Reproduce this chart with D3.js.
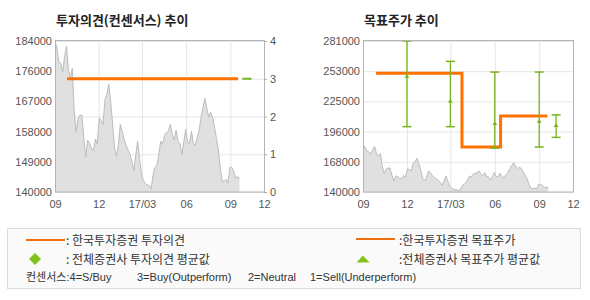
<!DOCTYPE html>
<html>
<head>
<meta charset="utf-8">
<script src="https://cdn.jsdelivr.net/npm/d3@7"></script>
<style>
body { margin: 0; background: #fff; }
svg { font-family: "Noto Sans CJK KR", "Liberation Sans", sans-serif; }
.grid line { stroke: #e6e6e6; }
.grid path { display: none; }
.lbl text { fill: #555; font-size: 11px; font-family: "Liberation Sans", Arial, sans-serif; }
.lbl path { display: none; }
.lbl line { stroke: #aaa; }
.cs { font-family: "Liberation Sans", "Noto Sans CJK KR", sans-serif; }
</style>
</head>
<body>
<div id="chart"></div>
<script>
// stock price, sampled every 4 days from 2016-09-01
const priceStart = "2016-09-01";
const priceStepDays = 4;
const priceValues = [
  183700, 182200, 177800, 177500, 175000, 179500, 182500, 175500, 173400, 176000,
  163800, 157400, 161400, 162400, 162400, 155600, 150100, 155100, 154200, 152600,
  152200, 155400, 153900, 161500, 160900, 159700, 167000, 168500, 171400, 166100,
  159700, 152700, 150400, 153900, 159700, 157700, 155100, 153600, 152200, 151000,
  148900, 146300, 150700, 154800, 149800, 145200, 143400, 142500, 142000, 142000,
  140800, 144900, 147200, 147800, 150700, 154800, 153900, 156500, 157400, 157700,
  159700, 156800, 155100, 158000, 154800, 154200, 151000, 154500, 158300, 154500,
  154200, 157700, 154200, 153600, 155900, 158000, 161800, 164700, 167300, 164400,
  161800, 163200, 161800, 158900, 155600, 152200, 146900, 143100, 143100, 143700,
  142500, 147200, 147200, 146000, 144000, 144600, 143900
];

// x axis
const xStart = "2016-09-01";
const xEnd = "2017-11-10";
const xTickDates = ["2016-09-01", "2016-12-01", "2017-03-01", "2017-06-01", "2017-09-01", "2017-11-10"];
const xTickLabels = ["09", "12", "17/03", "06", "09", "12"];

// left chart
const leftPriceDomain = [140000, 184000];
const leftPriceLabels = ["140000", "149000", "158000", "167000", "176000", "184000"];
const opinionTicks = [0, 1, 2, 3, 4];
const opinionDates = ["2016-09-26", "2017-09-17"];
const opinionValues = [3, 3];
const avgOpinionDates = ["2017-09-26", "2017-10-15"];
const avgOpinionValues = [3, 3];

// right chart
const rightPriceDomain = [140000, 281000];
const rightPriceLabels = ["140000", "168000", "196000", "225000", "253000", "281000"];
const targetDates = ["2016-09-28", "2017-03-25", "2017-06-13", "2017-09-18"];
const targetValues = [251000, 182000, 211000, 211000];
const bandDates = ["2016-12-01", "2017-03-01", "2017-06-01", "2017-09-01", "2017-10-06"];
const bandLow = [201000, 201000, 181000, 182000, 191000];
const bandAvg = [248000, 225000, 204000, 206000, 202000];
const bandHigh = [281000, 262000, 252000, 252000, 212000];

const parse = d3.timeParse("%Y-%m-%d");
const orange = "#ff7200";
const green = "#77b41c";

const start = parse(priceStart);
const prices = priceValues.map((v, i) => ({ date: d3.timeDay.offset(start, i * priceStepDays), value: v }));

const svg = d3.select("#chart").append("svg")
  .attr("width", 590)
  .attr("height", 300);

const plotTop = 41, plotBottom = 192;

function drawFrame(x0, x1, priceDomain, priceLabels, title, id) {
  const x = d3.scaleTime().domain([parse(xStart), parse(xEnd)]).range([x0, x1]);
  const y = d3.scaleLinear().domain(priceDomain).range([plotBottom, plotTop]);
  const priceTicks = d3.range(priceLabels.length).map(i =>
    priceDomain[0] + i * (priceDomain[1] - priceDomain[0]) / (priceLabels.length - 1));

  svg.append("text")
    .attr("x", x0 + 1)
    .attr("y", 25)
    .attr("font-size", "13px")
    .attr("font-weight", "bold")
    .attr("fill", "#222")
    .text(title);

  // vertical grid
  svg.append("g").attr("class", "grid")
    .attr("transform", `translate(0,${plotBottom})`)
    .call(d3.axisBottom(x).tickValues(xTickDates.map(parse)).tickSize(-(plotBottom - plotTop)).tickFormat(""));

  // x labels
  svg.append("g").attr("class", "lbl")
    .attr("transform", `translate(0,${plotBottom})`)
    .call(d3.axisBottom(x).tickValues(xTickDates.map(parse)).tickSize(0).tickPadding(8)
      .tickFormat((d, i) => xTickLabels[i]));

  // left price labels
  svg.append("g").attr("class", "lbl")
    .attr("transform", `translate(${x0},0)`)
    .call(d3.axisLeft(y).tickValues(priceTicks).tickSize(0).tickPadding(3)
      .tickFormat((d, i) => priceLabels[i]));

  svg.append("clipPath").attr("id", id)
    .append("rect").attr("x", x0).attr("y", plotTop).attr("width", x1 - x0).attr("height", plotBottom - plotTop);

  return { x, y, priceTicks };
}

function drawPrice(s, id) {
  const area = d3.area()
    .x(d => s.x(d.date))
    .y0(plotBottom)
    .y1(d => s.y(d.value));
  const line = d3.line()
    .x(d => s.x(d.date))
    .y(d => s.y(d.value));
  const g = svg.append("g").attr("clip-path", `url(#${id})`);
  g.append("path").attr("d", area(prices)).attr("fill", "#e0e0e0");
  g.append("path").attr("d", line(prices)).attr("fill", "none").attr("stroke", "#bcbcbc").attr("stroke-width", 1);
}

function drawBorder(x0, x1) {
  svg.append("rect")
    .attr("x", x0 + 0.5).attr("y", plotTop - 0.5)
    .attr("width", x1 - x0).attr("height", plotBottom - plotTop + 0.5)
    .attr("fill", "none").attr("stroke", "#b4b4b4");
}

// ---------- left chart: consensus ----------
const L = drawFrame(55, 264, leftPriceDomain, leftPriceLabels, "투자의견(컨센서스) 추이", "clipL");
const yOp = d3.scaleLinear().domain([0, 4]).range([plotBottom, plotTop]);

svg.append("g").attr("class", "grid")
  .attr("transform", "translate(55,0)")
  .call(d3.axisRight(yOp).tickValues(opinionTicks).tickSize(209).tickFormat(""));

svg.append("g").attr("class", "lbl")
  .attr("transform", "translate(264,0)")
  .call(d3.axisRight(yOp).tickValues(opinionTicks).tickSize(3).tickPadding(3).tickFormat(d3.format("d")));

drawPrice(L, "clipL");

const opLine = d3.line().x(d => L.x(d.date)).y(d => yOp(d.value)).curve(d3.curveStepAfter);
svg.append("path")
  .attr("d", opLine(opinionDates.map((d, i) => ({ date: parse(d), value: opinionValues[i] }))))
  .attr("fill", "none").attr("stroke", orange).attr("stroke-width", 3);
svg.append("path")
  .attr("d", opLine(avgOpinionDates.map((d, i) => ({ date: parse(d), value: avgOpinionValues[i] }))))
  .attr("fill", "none").attr("stroke", green).attr("stroke-width", 2);

drawBorder(55, 264);

// ---------- right chart: target price ----------
const R = drawFrame(363, 573, rightPriceDomain, rightPriceLabels, "목표주가 추이", "clipR");

svg.append("g").attr("class", "grid")
  .attr("transform", "translate(363,0)")
  .call(d3.axisRight(R.y).tickValues(R.priceTicks).tickSize(210).tickFormat(""));

drawPrice(R, "clipR");

const tgLine = d3.line().x(d => R.x(d.date)).y(d => R.y(d.value)).curve(d3.curveStepAfter);
svg.append("path")
  .attr("d", tgLine(targetDates.map((d, i) => ({ date: parse(d), value: targetValues[i] }))))
  .attr("fill", "none").attr("stroke", orange).attr("stroke-width", 3);

const bands = bandDates.map((d, i) => ({ date: parse(d), low: bandLow[i], avg: bandAvg[i], high: bandHigh[i] }));
const bg = svg.append("g").selectAll("g").data(bands).join("g");
bg.append("line")
  .attr("x1", d => R.x(d.date)).attr("x2", d => R.x(d.date))
  .attr("y1", d => R.y(d.high)).attr("y2", d => R.y(d.low))
  .attr("stroke", green).attr("stroke-width", 1.3);
bg.append("line")
  .attr("x1", d => R.x(d.date) - 4.5).attr("x2", d => R.x(d.date) + 4.5)
  .attr("y1", d => R.y(d.high)).attr("y2", d => R.y(d.high))
  .attr("stroke", green).attr("stroke-width", 1.5);
bg.append("line")
  .attr("x1", d => R.x(d.date) - 4.5).attr("x2", d => R.x(d.date) + 4.5)
  .attr("y1", d => R.y(d.low)).attr("y2", d => R.y(d.low))
  .attr("stroke", green).attr("stroke-width", 1.5);
bg.append("path")
  .attr("transform", d => `translate(${R.x(d.date)},${R.y(d.avg)})`)
  .attr("d", "M-2.5,1.5L0,-2L2.5,1.5Z")
  .attr("fill", green);

drawBorder(363, 573);

// ---------- legend ----------
const lg = svg.append("g");
lg.append("rect")
  .attr("x", 7.5).attr("y", 228.5).attr("width", 573).attr("height", 60)
  .attr("fill", "#fafafa").attr("stroke", "#dcdcdc");

lg.append("line").attr("x1", 26).attr("x2", 65).attr("y1", 240).attr("y2", 240)
  .attr("stroke", "#f07010").attr("stroke-width", 2);
lg.append("text").attr("x", 66).attr("y", 244.5).attr("font-size", "12px").attr("fill", "#333")
  .text(": 한국투자증권 투자의견");

lg.append("path").attr("transform", "translate(35,259)")
  .attr("d", "M0,-6L6,0L0,6L-6,0Z").attr("fill", "#80c31c");
lg.append("text").attr("x", 66).attr("y", 263.5).attr("font-size", "12px").attr("fill", "#333")
  .text(": 전체증권사 투자의견 평균값");

lg.append("line").attr("x1", 356).attr("x2", 395).attr("y1", 239).attr("y2", 239)
  .attr("stroke", "#f07010").attr("stroke-width", 2);
lg.append("text").attr("x", 399).attr("y", 244.5).attr("font-size", "12px").attr("fill", "#333")
  .text(":한국투자증권 목표주가");

lg.append("path").attr("transform", "translate(363,259)")
  .attr("d", "M-6.5,3.5L0,-3.5L6.5,3.5Z").attr("fill", "#80c31c");
lg.append("text").attr("x", 399).attr("y", 263.5).attr("font-size", "12px").attr("fill", "#333")
  .text(":전체증권사 목표주가 평균값");

const consensusParts = ["컨센서스:4=S/Buy", "3=Buy(Outperform)", "2=Neutral", "1=Sell(Underperform)"];
const consensusX = [26, 137, 248, 310];
lg.selectAll("text.cs").data(consensusParts).join("text")
  .attr("class", "cs")
  .attr("x", (d, i) => consensusX[i]).attr("y", 281)
  .attr("font-size", "11px").attr("fill", "#333")
  .text(d => d);
</script>
</body>
</html>
